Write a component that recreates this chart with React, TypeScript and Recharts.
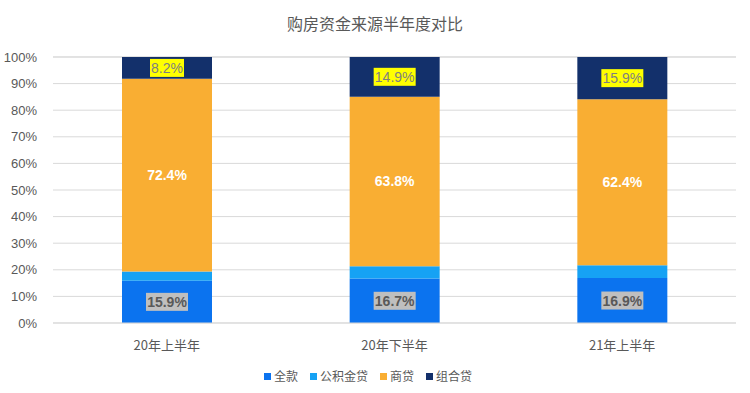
import React from "react";
import { BarChart, Bar, XAxis, YAxis, CartesianGrid, Legend, LabelList } from "recharts";

const categories = ["20年上半年", "20年下半年", "21年上半年"];
const quankuan = [15.9, 16.7, 16.9];
const gongjijin = [3.5, 4.6, 4.8];
const shangdai = [72.4, 63.8, 62.4];
const zuhe = [8.2, 14.9, 15.9];
const yTicks = [0, 10, 20, 30, 40, 50, 60, 70, 80, 90, 100];

const data = categories.map((c, i) => ({
  name: c,
  全款: quankuan[i],
  公积金贷: gongjijin[i],
  商贷: shangdai[i],
  组合贷: zuhe[i],
}));

const makeLabel = (kind: "gray" | "white" | "yellow") => (props: any) => {
  const { x, y, width, height, value } = props;
  const text = `${Number(value).toFixed(1)}%`;
  const cx = x + width / 2;
  const cy = y + height / 2;
  const tw = text.length * 8 + 2;
  if (kind === "white") {
    return (
      <text x={cx} y={cy} textAnchor="middle" dominantBaseline="central" fill="#ffffff" fontSize={14} fontWeight="bold" fontFamily="Liberation Sans, Arial, sans-serif">
        {text}
      </text>
    );
  }
  const bg = kind === "gray" ? "#bfbfbf" : "#ffff00";
  const fg = kind === "gray" ? "#595959" : "#7f7f7f";
  return (
    <g>
      <rect x={cx - tw / 2} y={cy - 9} width={tw} height={18} fill={bg} />
      <text x={cx} y={cy} textAnchor="middle" dominantBaseline="central" fill={fg} fontSize={14} fontWeight={kind === "gray" ? "bold" : "normal"} fontFamily="Liberation Sans, Arial, sans-serif">
        {text}
      </text>
    </g>
  );
};

const legendItems = [
  { name: "全款", color: "#0b73ef" },
  { name: "公积金贷", color: "#16a2f4" },
  { name: "商贷", color: "#f9ae33" },
  { name: "组合贷", color: "#13306b" },
];

const renderLegend = () => (
  <div style={{ display: "flex", justifyContent: "center", gap: 12, fontSize: 12, lineHeight: "20px", color: "#595959", fontFamily: "Noto Sans CJK SC, sans-serif" }}>
    {legendItems.map((it) => (
      <div key={it.name} style={{ display: "flex", alignItems: "center", gap: 3 }}>
        <span style={{ display: "inline-block", width: 7, height: 7, background: it.color }} />
        <span>{it.name}</span>
      </div>
    ))}
  </div>
);

export default function App() {
  return (
    <div style={{ position: "absolute", left: 0, top: 0, width: 750, height: 393, background: "#fff" }}>
      <div style={{ position: "absolute", top: 11, width: 750, textAlign: "center", fontSize: 16, color: "#595959", fontFamily: "Noto Sans CJK SC, sans-serif" }}>
        购房资金来源半年度对比
      </div>
      <BarChart width={750} height={393} data={data} margin={{ top: 57, right: 14, bottom: 20, left: 0 }} barSize={90}>
        <CartesianGrid vertical={false} stroke="#d9d9d9" />
        <XAxis dataKey="name" axisLine={{ stroke: "#d9d9d9" }} tickLine={false} tickMargin={12} tick={{ fill: "#595959", fontSize: 13, fontFamily: "Noto Sans CJK SC, sans-serif" }} height={30} />
        <YAxis domain={[0, 100]} ticks={yTicks} tickFormatter={(v) => `${v}%`} axisLine={false} tickLine={false} width={53} tickMargin={10} tick={{ fill: "#595959", fontSize: 13, fontFamily: "Liberation Sans, Arial, sans-serif" }} />
        <Legend verticalAlign="bottom" content={renderLegend} wrapperStyle={{ height: 20, top: 366 }} />
        <Bar dataKey="全款" stackId="a" fill="#0b73ef" isAnimationActive={false}>
          <LabelList dataKey="全款" content={makeLabel("gray")} />
        </Bar>
        <Bar dataKey="公积金贷" stackId="a" fill="#16a2f4" isAnimationActive={false} />
        <Bar dataKey="商贷" stackId="a" fill="#f9ae33" isAnimationActive={false}>
          <LabelList dataKey="商贷" content={makeLabel("white")} />
        </Bar>
        <Bar dataKey="组合贷" stackId="a" fill="#13306b" isAnimationActive={false}>
          <LabelList dataKey="组合贷" content={makeLabel("yellow")} />
        </Bar>
      </BarChart>
    </div>
  );
}
